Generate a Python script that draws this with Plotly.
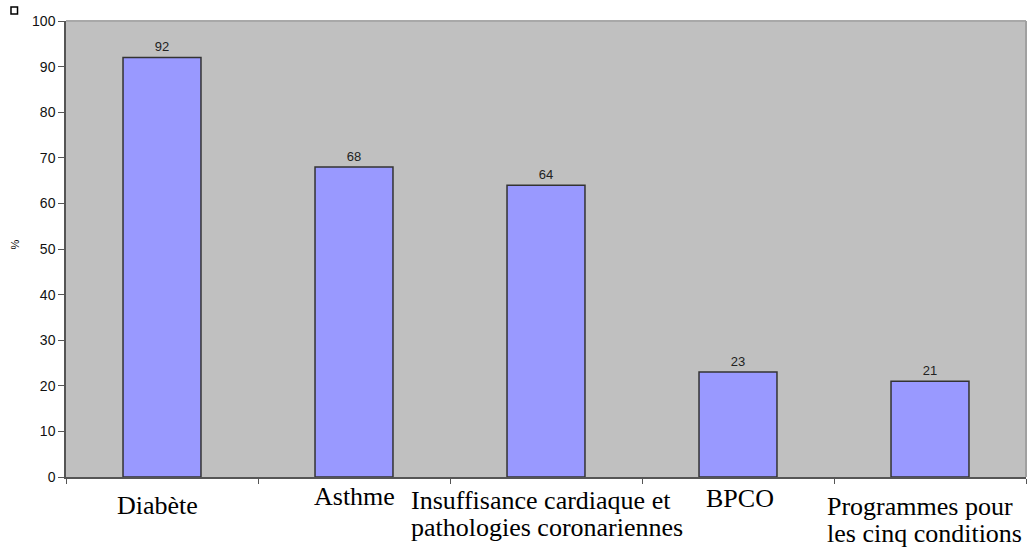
import plotly.graph_objects as go

categories = ["Diabète", "Asthme", "Insuffisance cardiaque et<br>pathologies coronariennes",
              "BPCO", "Programmes pour<br>les cinq conditions"]
values = [92, 68, 64, 23, 21]
y_ticks = list(range(0, 101, 10))

fig = go.Figure()
fig.add_trace(go.Bar(
    x=list(range(len(categories))), y=values,
    width=0.406,
    marker=dict(color="#9999ff", line=dict(color="#333333", width=1.5)),
    text=[str(v) for v in values], textposition="outside",
    textfont=dict(family="Liberation Sans, Arial", size=13, color="#222222"),
    cliponaxis=False, showlegend=False,
))

# category labels: layout-only offsets (px) for each label: (xanchor, xshift, first-line yshift)
label_layout = [("center", -5, -12), ("center", 0, -3), ("left", -137, -7),
                ("center", 2, -5), ("left", -105, -13)]
line_gap = 27
for i, (cat, (anc, dx, dy)) in enumerate(zip(categories, label_layout)):
    for j, line in enumerate(cat.split("<br>")):
        fig.add_annotation(x=i, y=0, xref="x", yref="y", text=line, showarrow=False,
                           xanchor=anc, yanchor="top", align="left",
                           xshift=dx, yshift=dy - j * line_gap,
                           font=dict(family="Liberation Serif, Times New Roman", size=26,
                                     color="#000000"))

fig.add_annotation(x=-0.053, y=0.51, xref="paper", yref="paper", text="%", showarrow=False,
                   textangle=-90, xanchor="center", yanchor="middle",
                   font=dict(family="Liberation Sans, Arial", size=11, color="#000000"))

fig.update_layout(
    width=1029, height=547,
    margin=dict(l=66, r=3, t=21, b=70, autoexpand=False),
    paper_bgcolor="white", plot_bgcolor="#c0c0c0",
    xaxis=dict(range=[-0.5, len(categories) - 0.5], tickmode="array",
               tickvals=[i - 0.5 for i in range(len(categories) + 1)],
               ticktext=[""] * (len(categories) + 1),
               ticks="outside", ticklen=5, tickcolor="#555555",
               showline=True, linecolor="#555555", linewidth=1.5,
               showgrid=False, zeroline=False, automargin=False),
    yaxis=dict(range=[0, 100], tickvals=y_ticks, ticks="outside", ticklen=6,
               tickcolor="#555555", showline=True, linecolor="#555555", linewidth=1.5,
               showgrid=False, zeroline=False, automargin=False,
               tickfont=dict(family="Liberation Sans, Arial", size=14, color="#111111")),
    shapes=[dict(type="line", xref="paper", yref="paper", x0=0, x1=1, y0=1, y1=1,
                 line=dict(color="#a8a8a8", width=2)),
            dict(type="line", xref="paper", yref="paper", x0=1, x1=1, y0=0, y1=1,
                 line=dict(color="#a0a0a0", width=2)),
            dict(type="rect", xref="paper", yref="paper",
                 x0=-0.0573, x1=-0.0505, y0=1.0154, y1=1.0307,
                 line=dict(color="#000000", width=1.5), fillcolor="white")],
)

fig.write_html("out.html", config={"displayModeBar": False},
               post_script="document.body.style.margin='0';document.body.style.overflow='hidden';")
